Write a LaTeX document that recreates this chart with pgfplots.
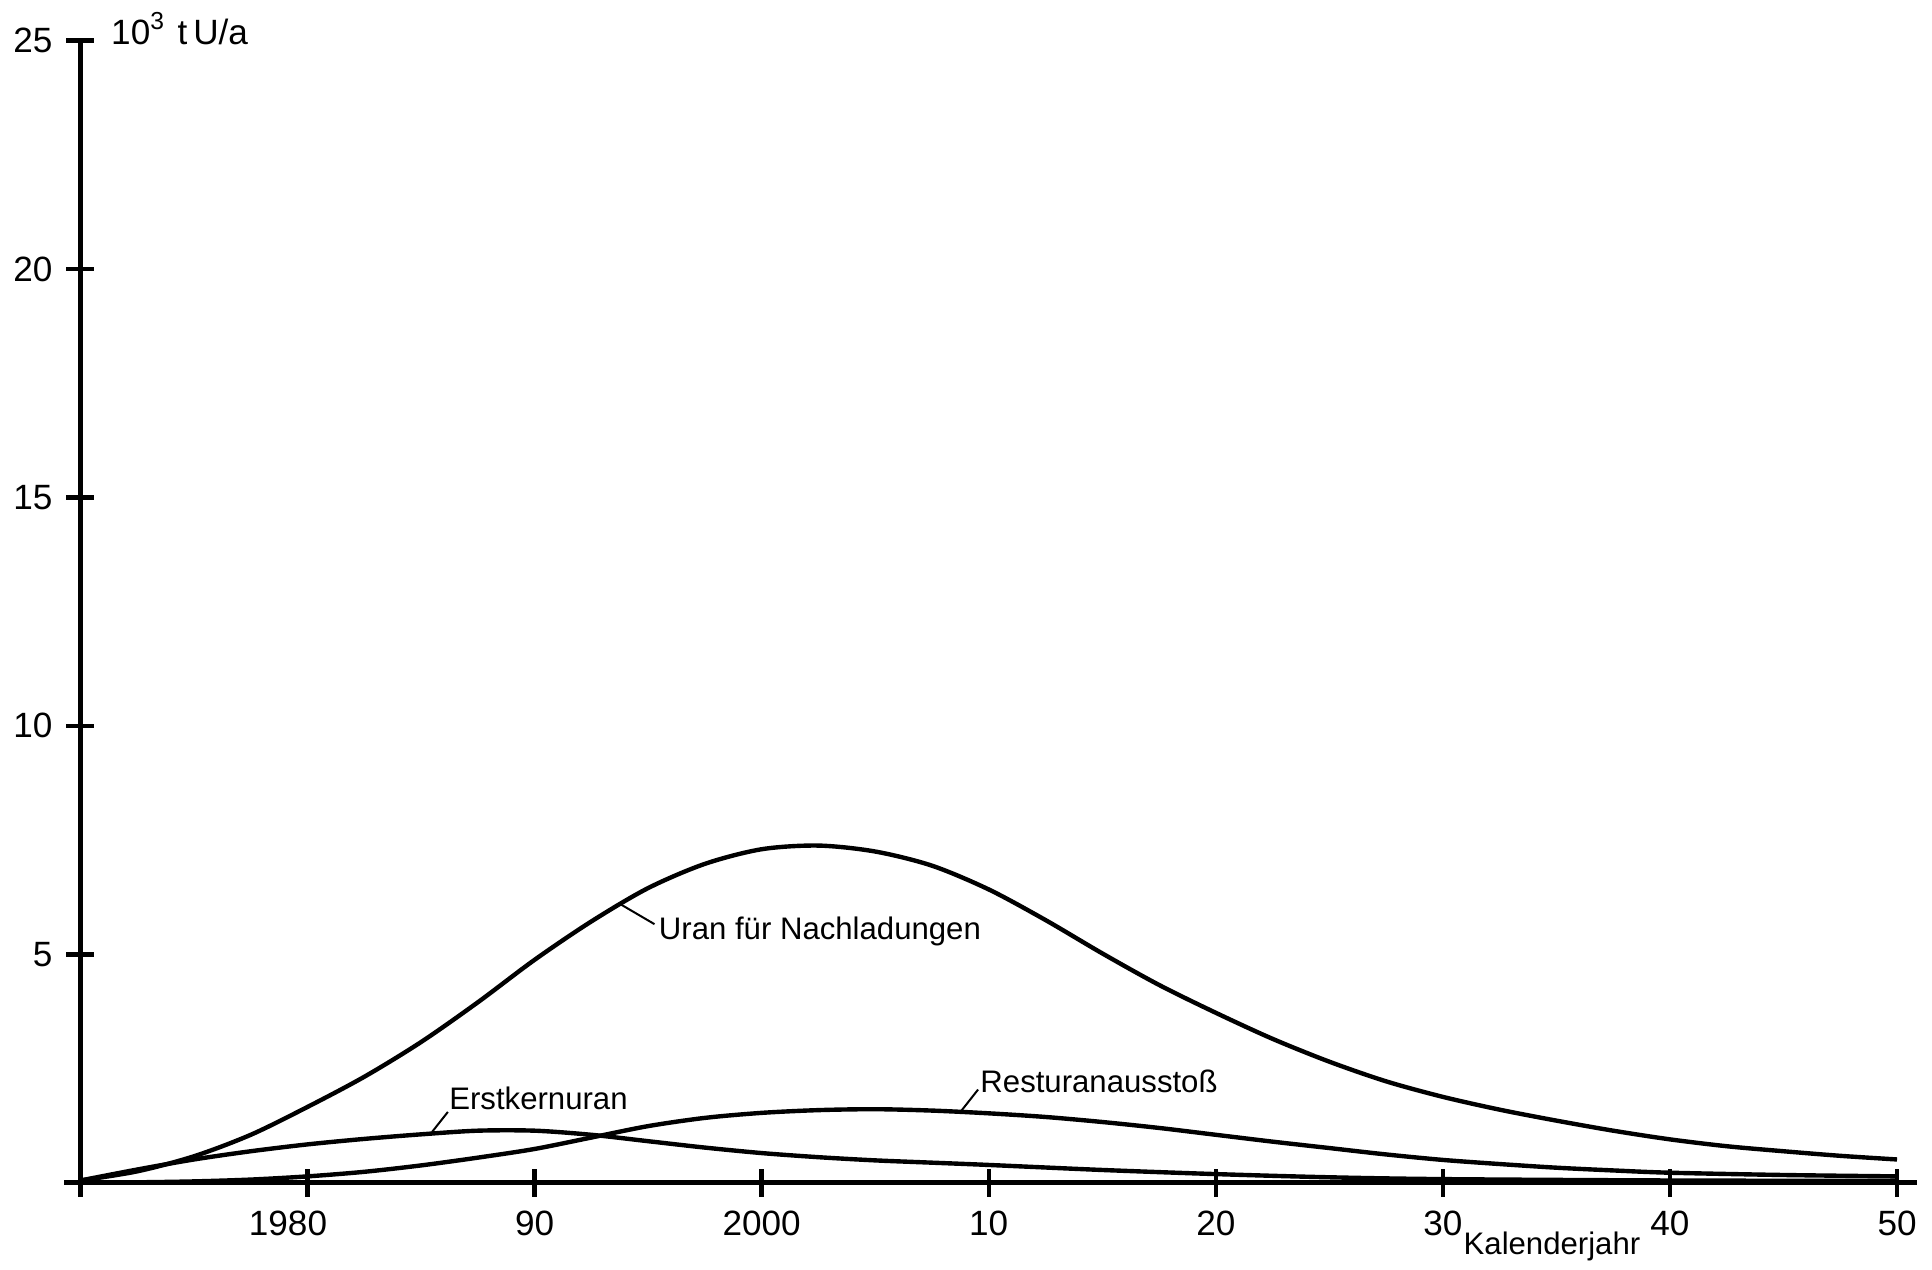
\documentclass[border=0pt]{standalone}
\usepackage{fontspec}
\setmainfont{Liberation Sans}
\usepackage{pgfplots}
\pgfplotsset{compat=1.18}
\begin{document}
\begin{tikzpicture}
\begin{axis}[
  scale only axis, width=455pt, height=286.1pt,
  xmin=1970, xmax=2050, ymin=0, ymax=25,
  axis lines*=left,
  axis line style={line width=1.2pt},
  x axis line style={shorten <=-4pt, shorten >=-5pt},
  xtick={1970,1980,...,2050},
  xticklabels={,\llap{19}80,90,2000,10,20,30,40,50},
  ytick={0,5,...,25},
  yticklabels={,5,10,15,20,25},
  tick align=center,
  major tick length=7pt,
  tick style={line width=1.1pt, black},
  tick label style={font=\fontsize{8.8}{10}\selectfont},
  /pgf/number format/assume math mode=true,
  clip=false,
]
% Uran fuer Nachladungen
\addplot[black, line width=1.1pt, smooth, tension=0.5] coordinates {
(1970,0.05) (1972.5,0.25) (1975,0.58) (1977.5,1.05) (1980,1.66) (1982.5,2.32)
(1985,3.08) (1987.5,3.95) (1990,4.88) (1992.5,5.72) (1995,6.45) (1997.5,6.98)
(2000,7.30) (2002.5,7.38) (2005,7.25) (2007.5,6.94) (2010,6.42) (2012.5,5.75)
(2015,5.02) (2017.5,4.33) (2020,3.72) (2022.5,3.15) (2025,2.65) (2027.5,2.22)
(2030,1.88) (2032.5,1.60) (2035,1.36) (2037.5,1.14) (2040,0.95) (2042.5,0.80)
(2045,0.69) (2047.5,0.59) (2050,0.51)
};
% Erstkernuran
\addplot[black, line width=1.1pt, smooth, tension=0.5] coordinates {
(1970,0.05) (1972.5,0.29) (1975,0.51) (1977.5,0.69) (1980,0.84) (1982.5,0.96)
(1985,1.06) (1987.5,1.14) (1990,1.14) (1992.5,1.05) (1995,0.91) (1997.5,0.77)
(2000,0.65) (2002.5,0.56) (2005,0.49) (2007.5,0.44) (2010,0.39) (2015,0.28)
(2020,0.19) (2025,0.12) (2030,0.08) (2040,0.05) (2050,0.04)
};
% Resturanausstoss
\addplot[black, line width=1.1pt, smooth, tension=0.5] coordinates {
(1970,0) (1972.5,0.01) (1975,0.03) (1977.5,0.07) (1980,0.14) (1982.5,0.24)
(1985,0.38) (1987.5,0.55) (1990,0.74) (1992.5,0.99) (1995,1.24) (1997.5,1.42)
(2000,1.53) (2002.5,1.59) (2005,1.61) (2007.5,1.58) (2010,1.52) (2012.5,1.44)
(2015,1.33) (2017.5,1.20) (2020,1.05) (2022.5,0.90) (2025,0.76) (2027.5,0.62)
(2030,0.50) (2032.5,0.41) (2035,0.33) (2037.5,0.27) (2040,0.22) (2045,0.17) (2050,0.14)
};
\draw[line width=0.5pt] (axis cs:1993.7,6.12) -- (axis cs:1995.28,5.66);
\node[anchor=base west, inner sep=0pt, font=\fontsize{7.8}{9}\selectfont] at (axis cs:1995.44,5.33) {Uran für Nachladungen};
\draw[line width=0.5pt] (axis cs:1985.48,1.11) -- (axis cs:1986.18,1.55);
\node[anchor=base west, inner sep=0pt, font=\fontsize{7.8}{9}\selectfont] at (axis cs:1986.21,1.60) {Erstkernuran};
\draw[line width=0.5pt] (axis cs:2008.8,1.58) -- (axis cs:2009.53,2.04);
\node[anchor=base west, inner sep=0pt, font=\fontsize{7.8}{9}\selectfont] at (axis cs:2009.6,1.97) {Resturanausstoß};
\node[anchor=base west, inner sep=0pt, font=\fontsize{8.8}{10}\selectfont] at (axis cs:1971.32,24.91) {10\textsuperscript{3}\,\,t\,U/a};
\node[anchor=base west, inner sep=0pt, font=\fontsize{7.8}{9}\selectfont, yshift=-18pt] at (axis cs:2030.88,0) {Kalenderjahr};
\end{axis}
\path (-19.25pt,-21.75pt) rectangle (463.75pt,296.25pt);
\end{tikzpicture}
\end{document}
